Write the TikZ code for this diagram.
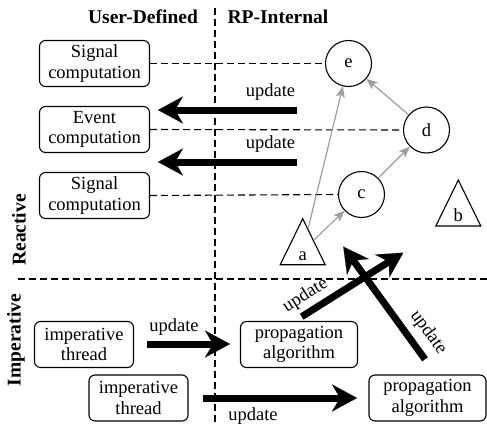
\documentclass[tikz,border=0pt]{standalone}
\usepackage{fontspec}
\setmainfont{Liberation Serif}
\usetikzlibrary{shapes.geometric,arrows.meta,calc}
\definecolor{depgray}{gray}{0.62}
\begin{document}
\begin{tikzpicture}[x=1pt,y=-1pt,
  txt/.style={font=\fontsize{18.5}{20.5}\selectfont},
  hdr/.style={font=\fontsize{19.5}{22}\selectfont\bfseries},
  box/.style={draw, rounded corners=6pt, line width=1.1pt, align=center, inner sep=0pt, txt},
  userbox/.style={box, minimum width=110pt, minimum height=46pt},
  threadbox/.style={box, minimum width=99pt, minimum height=46pt},
  algobox/.style={box, minimum width=117pt, minimum height=46pt},
  sigcirc/.style={circle, draw, line width=1.1pt, minimum size=46pt, inner sep=0pt, txt},
  srctri/.style={isosceles triangle, isosceles triangle stretches, shape border rotate=90,
    draw, line width=1.1pt, minimum width=45pt, minimum height=46pt, inner sep=0pt},
  sepline/.style={dash pattern=on 7pt off 4pt, line width=1.1pt},
  linkline/.style={dash pattern=on 7pt off 4pt, line width=1.1pt},
  dep/.style={draw=depgray, line width=1.2pt, -{Stealth[length=11pt,width=9pt,inset=2.5pt]}},
  push/.style={line width=7pt, -{Stealth[length=25pt,width=27pt,inset=8pt,line width=0.1pt]}},
]
\useasboundingbox (0,0) rectangle (487,423);

% section separators
\coordinate (vtop) at (215,8);
\coordinate (vbot) at (215,423);
\coordinate (hleft) at (18,279);
\coordinate (hright) at (487,279);
\draw[sepline] (vtop) -- (vbot);
\draw[sepline] (hleft) -- (hright);

% headings
\node[hdr] (hud) at (143,17) {User-Defined};
\node[hdr] (hrp) at (278,17) {RP-Internal};
\node[hdr, rotate=90] (hre) at (19,230) {Reactive};
\node[hdr, rotate=90] (him) at (16,340) {Imperative};

% user-defined computations
\node[userbox] (s1) at (94.5,63.5) {Signal\\computation};
\node[userbox] (ev) at (94.5,129.5) {Event\\computation};
\node[userbox] (s2) at (94.5,195.5) {Signal\\computation};

% dependency graph (triangle nodes are centred on their centroid)
\node[sigcirc] (e) at (348.5,63.5) {e};
\node[sigcirc] (d) at (426.5,130) {d};
\node[sigcirc] (c) at (361.5,194.5) {c};
\node[srctri] (a) at (302.7,250.7) {};
\node[srctri] (b) at (458.3,212) {};
\node[txt, anchor=base] (al) at (302.7,260.5) {a};
\node[txt, anchor=base] (bl) at (458.3,221.5) {b};

\draw[linkline] (s1.east) -- (e.west);
\draw[linkline] (ev.east) -- (d.west);
\draw[linkline] (s2.east) -- (c.west);

\draw[dep] (a) -- (e);
\draw[dep] (a) -- (c);
\draw[dep] (c) -- (d);
\draw[dep] (d) -- (e);

% updates pushed back to user code
\coordinate (u1s) at (297,110);
\coordinate (u1e) at (158,110);
\coordinate (u2s) at (297,162);
\coordinate (u2e) at (158,162);
\draw[push] (u1s) -- (u1e);
\draw[push] (u2s) -- (u2e);
\node[txt, anchor=base] (u1l) at (270.5,96.5) {update};
\node[txt, anchor=base] (u2l) at (270.5,148.3) {update};

% imperative side
\node[threadbox] (t1) at (84,344.5) {imperative\\thread};
\node[threadbox] (t2) at (138.5,398) {imperative\\thread};
\node[algobox] (p1) at (299,344.5) {propagation\\algorithm};
\node[algobox] (p2) at (427.5,398) {propagation\\algorithm};

\coordinate (i1s) at (147,344);
\coordinate (i1e) at (230,344);
\coordinate (i2s) at (203,398);
\coordinate (i2e) at (357,398);
\draw[push] (i1s) -- (i1e);
\draw[push] (i2s) -- (i2e);
\node[txt, anchor=base] (i1l) at (174,331) {update};
\node[txt, anchor=base] (i2l) at (253,420) {update};

% propagation reaching into the reactive part
\coordinate (dAs) at (301.7,316.7);
\coordinate (dAe) at (403.3,252.7);
\coordinate (dBs) at (425,359.3);
\coordinate (dBe) at (343.3,246.7);
\draw[push] (dAs) -- (dAe);
\draw[push] (dBs) -- (dBe);
\node[txt, rotate=32] (dAl) at (305.5,295.5) {update};
\node[txt, rotate=-54] (dBl) at (428.3,332.5) {update};
\end{tikzpicture}
\end{document}
